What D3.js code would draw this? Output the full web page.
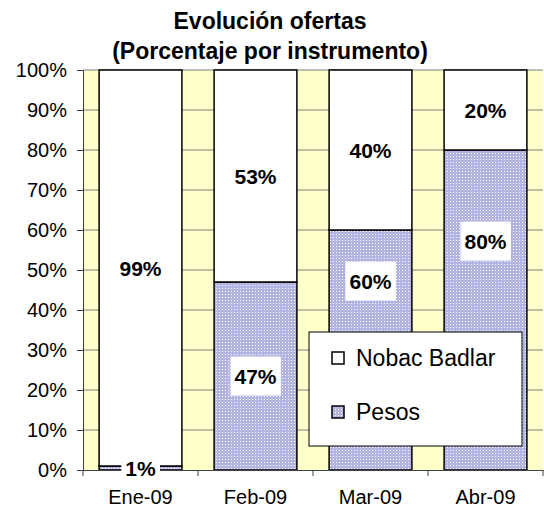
<!DOCTYPE html>
<html>
<head>
<meta charset="utf-8">
<script src="https://cdn.jsdelivr.net/npm/d3@7"></script>
<style>
  body { margin: 0; background: #fff; }
  text { font-family: "Liberation Sans", Arial, sans-serif; }
</style>
</head>
<body>
<div id="app"></div>
<script>
// chart data
const months = ['Ene-09', 'Feb-09', 'Mar-09', 'Abr-09'];
const series = ['Pesos', 'Nobac Badlar'];
const pesos = [1, 47, 60, 80];
const nobac = [99, 53, 40, 20];
const yTicks = [0, 10, 20, 30, 40, 50, 60, 70, 80, 90, 100];

const width = 544;
const height = 512;
const margin = {top: 70, left: 83, right: 1, bottom: 42};
const legendBox = {x: 309, y: 332, w: 213, h: 114};

const svg = d3.select('#app')
  .append('svg')
  .attr('width', width)
  .attr('height', height);

// dotted fill for the Pesos series
const defs = svg.append('defs');
const pat = defs.append('pattern')
  .attr('id', 'dots')
  .attr('width', 3)
  .attr('height', 3)
  .attr('patternUnits', 'userSpaceOnUse');
pat.append('rect').attr('width', 3).attr('height', 3).attr('fill', '#b4b4e2');
pat.append('rect').attr('width', 1).attr('height', 1).attr('fill', '#ffffff');

const fills = {'Pesos': 'url(#dots)', 'Nobac Badlar': '#ffffff'};

const x = d3.scaleBand()
  .domain(months)
  .range([margin.left, width - margin.right])
  .paddingInner(0.28)
  .paddingOuter(0.14);

const y = d3.scaleLinear()
  .domain([0, 100])
  .range([height - margin.bottom, margin.top]);

// plot background
svg.append('rect')
  .attr('x', margin.left)
  .attr('y', margin.top)
  .attr('width', width - margin.right - margin.left)
  .attr('height', y(0) - margin.top)
  .attr('fill', '#ffffcc');

// gridlines
svg.append('g')
  .selectAll('line')
  .data(yTicks.filter(d => d > 0))
  .join('line')
  .attr('x1', margin.left)
  .attr('x2', width - margin.right)
  .attr('y1', d => y(d))
  .attr('y2', d => y(d))
  .attr('stroke', '#7f7f7f')
  .attr('stroke-width', 1);

// stack the two series
const table = months.map((m, i) => ({month: m, 'Pesos': pesos[i], 'Nobac Badlar': nobac[i]}));
const stacked = d3.stack().keys(series)(table);

svg.append('g')
  .selectAll('g')
  .data(stacked)
  .join('g')
  .attr('fill', d => fills[d.key])
  .selectAll('rect')
  .data(d => d)
  .join('rect')
  .attr('x', d => x(d.data.month))
  .attr('y', d => y(d[1]))
  .attr('width', x.bandwidth())
  .attr('height', d => y(d[0]) - y(d[1]))
  .attr('stroke', '#000')
  .attr('stroke-width', 1.5);

// y axis
const yAxis = svg.append('g')
  .attr('transform', `translate(${margin.left},0)`)
  .call(d3.axisLeft(y).tickValues(yTicks).tickSize(6).tickPadding(10).tickFormat(d => d + '%'));
yAxis.select('.domain').attr('stroke', '#404040');
yAxis.selectAll('.tick line').attr('stroke', '#404040');
yAxis.selectAll('text')
  .style('font-family', '"Liberation Sans", Arial, sans-serif')
  .style('font-size', '20px')
  .attr('fill', '#000');

// x axis, ticks at category boundaries
const xAxis = svg.append('g')
  .attr('transform', `translate(0,${y(0)})`)
  .call(d3.axisBottom(x).tickSize(0).tickPadding(20));
xAxis.select('.domain').attr('stroke', '#404040');
xAxis.selectAll('text')
  .style('font-family', '"Liberation Sans", Arial, sans-serif')
  .style('font-size', '20px')
  .attr('fill', '#000');
const step = x.step();
xAxis.selectAll('line.sep')
  .data(d3.range(months.length + 1))
  .join('line')
  .attr('class', 'sep')
  .attr('x1', i => margin.left + i * step)
  .attr('x2', i => margin.left + i * step)
  .attr('y1', 0)
  .attr('y2', 6)
  .attr('stroke', '#404040');

// data labels with white boxes, kept in the part of the bar the legend leaves free
const legendTop = y.invert(legendBox.y);
const labels = [];
stacked.forEach(s => s.forEach(d => {
  const x0 = x(d.data.month);
  const hitsLegend = x0 + x.bandwidth() > legendBox.x && x0 < legendBox.x + legendBox.w;
  let mid = (d[0] + d[1]) / 2;
  if (hitsLegend && d[0] < legendTop && d[1] > legendTop) mid = (legendTop + d[1]) / 2;
  labels.push({month: d.data.month, value: d[1] - d[0], mid: mid});
}));

const lab = svg.append('g')
  .selectAll('g')
  .data(labels)
  .join('g')
  .attr('transform', d => `translate(${x(d.month) + x.bandwidth() / 2},${y(d.mid)})`);

lab.append('text')
  .attr('text-anchor', 'middle')
  .attr('dy', '0.36em')
  .style('font-size', '21px')
  .style('font-weight', 'bold')
  .text(d => d.value + '%');

lab.each(function() {
  const g = d3.select(this);
  const b = g.select('text').node().getBBox();
  g.insert('rect', 'text')
    .attr('x', b.x - 4)
    .attr('y', b.y - 8)
    .attr('width', b.width + 8)
    .attr('height', b.height + 16)
    .attr('fill', '#fff');
});

// title
const title = svg.append('text')
  .attr('text-anchor', 'middle')
  .style('font-size', '23px')
  .style('font-weight', 'bold');
title.append('tspan').attr('x', 270).attr('y', 29).text('Evolución ofertas');
title.append('tspan').attr('x', 270).attr('y', 59).text('(Porcentaje por instrumento)');

// legend
const legend = svg.append('g')
  .attr('transform', `translate(${legendBox.x},${legendBox.y})`);
legend.append('rect')
  .attr('width', legendBox.w)
  .attr('height', legendBox.h)
  .attr('fill', '#fff')
  .attr('stroke', '#000')
  .attr('stroke-width', 1);

const legendItems = legend.selectAll('g')
  .data(series.slice().reverse())
  .join('g')
  .attr('transform', (d, i) => `translate(23,${26 + i * 54})`);
legendItems.append('rect')
  .attr('y', -6)
  .attr('width', 12)
  .attr('height', 12)
  .attr('fill', d => fills[d])
  .attr('stroke', '#000')
  .attr('stroke-width', 1.5);
legendItems.append('text')
  .attr('x', 24)
  .attr('dy', '0.36em')
  .style('font-size', '23px')
  .text(d => d);
</script>
</body>
</html>
